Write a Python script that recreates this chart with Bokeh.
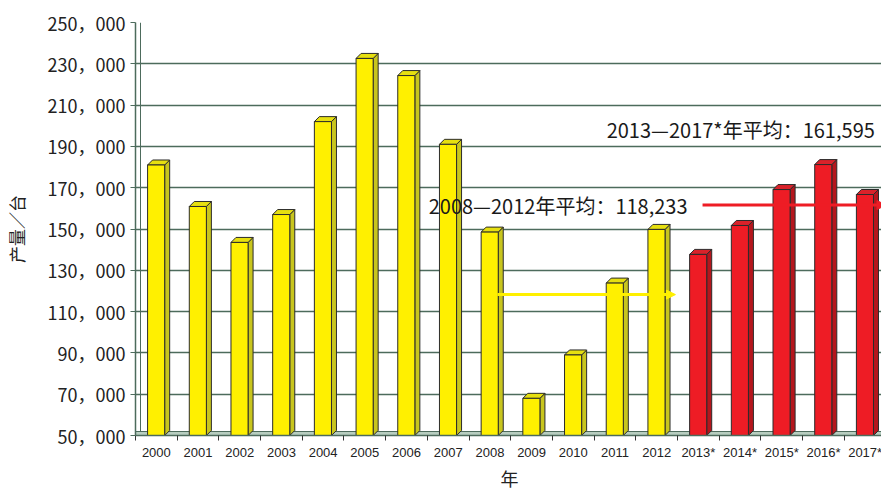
from bokeh.plotting import figure
from bokeh.models import FixedTicker, Range1d, Arrow, NormalHead, Label
from bokeh.embed import file_html
from bokeh.resources import INLINE

years = ["2000", "2001", "2002", "2003", "2004", "2005", "2006", "2007", "2008",
         "2009", "2010", "2011", "2012", "2013*", "2014*", "2015*", "2016*", "2017*"]
production = [181000, 160900, 143500, 157000, 202000, 232600, 224300, 191000, 148500,
              68000, 89000, 123800, 149800, 137700, 151700, 169100, 181200, 166700]
y_ticks = [50000, 70000, 90000, 110000, 130000, 150000, 170000, 190000, 210000, 230000, 250000]
y_tick_labels = ["50，000", "70，000", "90，000", "110，000", "130，000", "150，000",
                 "170，000", "190，000", "210，000", "230，000", "250，000"]
avg_2008_2012 = 118233
avg_2013_2017 = 161595

FONT = "Noto Sans CJK SC"
GRID = "#4d6b5c"
Y0, Y1 = 50000, 250000
X1 = 17.94

p = figure(frame_width=748, frame_height=413, x_range=Range1d(0, X1), y_range=Range1d(Y0, Y1),
           output_backend="svg", toolbar_location=None,
           min_border_left=133, min_border_right=0, min_border_top=22, min_border_bottom=57)
p.outline_line_color = None
p.background_fill_color = "white"

# 3D offsets in data units
dx = 5 * X1 / 748
dy = 5 * (Y1 - Y0) / 413

# floor
p.quad(left=0, right=X1 + 1, bottom=Y0, top=Y0 + dy * 0.8, fill_color="#b7cdbf",
       line_color=GRID, line_width=1)
# back wall line
p.segment(x0=[dx], y0=[Y0 + dy * 0.8], x1=[dx], y1=[Y1], line_color=GRID, line_width=1)

idx = list(range(len(years)))
forecast = ["*" in y for y in years]
xl = [i + 0.29 for i in idx]
xr = [i + 0.70 for i in idx]
front_col = ["#EE1C25" if f else "#FFF000" for f in forecast]
side_col = ["#B5161D" if f else "#C8C51E" for f in forecast]
top_col = ["#D9222A" if f else "#E6DF10" for f in forecast]

side_xs = [[r, r + dx, r + dx, r] for r in xr]
side_ys = [[Y0, Y0 + dy, v + dy, v] for v in production]
top_xs = [[l, l + dx, r + dx, r] for l, r in zip(xl, xr)]
top_ys = [[v, v + dy, v + dy, v] for v in production]

p.patches(xs=side_xs, ys=side_ys, fill_color=side_col, line_color="#2b2b2b", line_width=1)
p.patches(xs=top_xs, ys=top_ys, fill_color=top_col, line_color="#2b2b2b", line_width=1)
p.quad(left=xl, right=xr, bottom=Y0, top=production, fill_color=front_col,
       line_color="#2b2b2b", line_width=1)

# average arrows
i08 = years.index("2008")
i13 = years.index("2013*")
i17 = years.index("2017*")
p.add_layout(Arrow(x_start=i08 + 0.68, y_start=avg_2008_2012, x_end=i13 - 0.05, y_end=avg_2008_2012,
                   line_color="#FFF000", line_width=3,
                   end=NormalHead(size=9, fill_color="#FFF000", line_color="#FFF000")))
p.add_layout(Arrow(x_start=i13 + 0.6, y_start=avg_2013_2017, x_end=i17 + 1.0, y_end=avg_2013_2017,
                   line_color="#EE1C25", line_width=3,
                   end=NormalHead(size=9, fill_color="#EE1C25", line_color="#EE1C25")))

p.add_layout(Label(x=i13 + 0.24, y=avg_2013_2017, text="2008—2012年平均：{:,}".format(avg_2008_2012),
                   text_align="right", text_baseline="middle", text_font=FONT,
                   text_font_size="20px", text_color="#1a1a1a"))
p.add_layout(Label(x=11.3, y=198000, text="2013—2017*年平均：{:,}".format(avg_2013_2017),
                   text_align="left", text_baseline="middle", text_font=FONT,
                   text_font_size="20px", text_color="#1a1a1a"))

# axes
p.yaxis.ticker = FixedTicker(ticks=y_ticks)
p.yaxis.major_label_overrides = {t: s for t, s in zip(y_ticks, y_tick_labels)}
p.yaxis.major_label_text_font = FONT
p.yaxis.major_label_text_font_size = "18px"
p.yaxis.major_label_text_color = "#222222"
p.yaxis.axis_line_color = GRID
p.yaxis.axis_line_width = 1.5
p.yaxis.major_tick_line_color = GRID
p.yaxis.major_tick_out = 5
p.yaxis.major_tick_in = 0
p.yaxis.minor_tick_line_color = None
p.yaxis.axis_label = "产量／台"
p.yaxis.axis_label_text_font = FONT
p.yaxis.axis_label_text_font_size = "17px"
p.yaxis.axis_label_text_font_style = "normal"
p.yaxis.axis_label_text_color = "#222222"
p.yaxis.axis_label_standoff = 16

centers = [i + 0.5 for i in idx]
p.xaxis.ticker = FixedTicker(ticks=centers, minor_ticks=list(range(len(years) + 1)))
p.xaxis.major_label_overrides = {c: y for c, y in zip(centers, years)}
p.xaxis.major_label_text_font = "Liberation Sans"
p.xaxis.major_label_text_font_size = "13px"
p.xaxis.major_label_text_color = "#222222"
p.xaxis.major_tick_line_color = None
p.xaxis.major_tick_out = 0
p.xaxis.minor_tick_line_color = "#333333"
p.xaxis.minor_tick_out = 5
p.xaxis.minor_tick_in = 0
p.xaxis.axis_line_color = GRID
p.xaxis.axis_line_width = 1.5
p.xaxis.major_label_standoff = 4
p.xaxis.axis_label = "年"
p.xaxis.axis_label_text_font = FONT
p.xaxis.axis_label_text_font_size = "18px"
p.xaxis.axis_label_text_font_style = "normal"
p.xaxis.axis_label_text_color = "#222222"
p.xaxis.axis_label_standoff = 2

p.xgrid.grid_line_color = None
p.ygrid.ticker = FixedTicker(ticks=y_ticks)
p.ygrid.grid_line_color = GRID
p.ygrid.grid_line_width = 1.3

open("out.html", "w").write(file_html(p, INLINE))
